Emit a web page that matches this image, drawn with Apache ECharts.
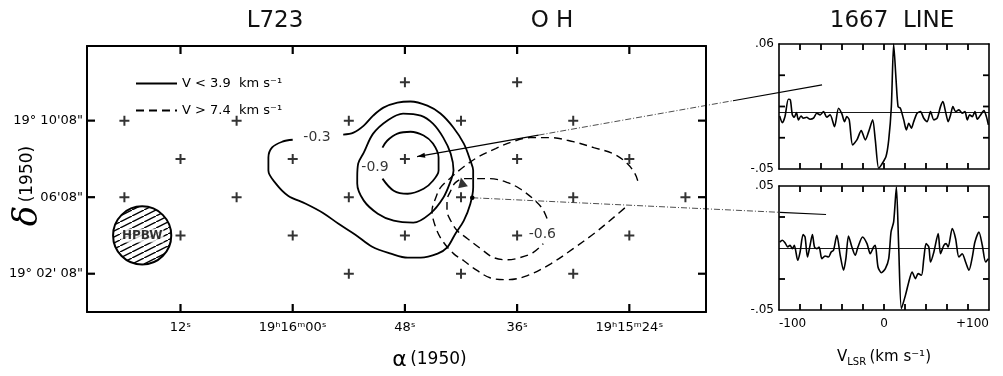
<!DOCTYPE html>
<html>
<head>
<meta charset="utf-8">
<title>L723 OH 1667 line</title>
<script src="https://cdn.jsdelivr.net/npm/echarts@6/dist/echarts.min.js"></script>
<style>
  html, body { margin: 0; padding: 0; background: #fff; }
  #chart { width: 1003px; height: 376px; }
</style>
</head>
<body>
<div id="chart"></div>
<script>
// map: x = seconds of RA after 19h15m00s, y = arcmin of Dec after 19°00'08"
const raTicks = [24, 36, 48, 60, 72]
const raTickLabels = ['19ʰ15ᵐ24ˢ', '36ˢ', '48ˢ', '19ʰ16ᵐ00ˢ', '12ˢ']
const decTicks = [2, 6, 10]
const decTickLabels = ['19° 02\' 08"', '06\'08"', '19° 10\'08"']

// observed positions (+)
const obsPoints = [
  [48, 12], [36, 12],
  [78, 10], [66, 10], [54, 10], [42, 10], [30, 10],
  [72, 8], [60, 8], [48, 8], [36, 8], [24, 8],
  [78, 6], [66, 6], [54, 6], [42, 6], [30, 6], [18, 6],
  [72, 4], [60, 4], [48, 4], [36, 4], [24, 4],
  [54, 2], [42, 2], [30, 2],
]
const sourcePos = [[41.9, 6.77]]
const beamPos = [[76.1, 4.0]]
const beamRadius = 1.52 // arcmin, as drawn

// V < 3.9 km/s contours
const contourSolidOuter = [
  [60.0, 9.0], [61.1, 8.9], [62.2, 8.6], [62.6, 8.07], [62.6, 7.39], [61.8, 6.71], [60.5, 6.08],
  [58.6, 5.66], [56.8, 5.19], [55.1, 4.61], [53.3, 4.04], [51.5, 3.41], [49.5, 3.05], [47.7, 2.84],
  [46.3, 2.84], [44.5, 3.05], [43.5, 3.36], [42.6, 4.09], [41.7, 4.77], [41.0, 5.66], [40.7, 6.5],
  [40.7, 7.39], [41.0, 7.91], [41.7, 8.8], [42.8, 9.63], [44.2, 10.37], [45.6, 10.78], [47.4, 11.0],
  [48.8, 10.94], [50.3, 10.68], [51.4, 10.26], [52.4, 9.74], [53.5, 9.37], [54.6, 9.27],
]
const contourSolidMid = [
  [53.1, 7.02], [53.0, 7.75], [52.4, 8.33], [51.4, 9.32], [49.9, 10.0], [48.2, 10.37], [46.3, 10.26],
  [45.0, 9.84], [43.9, 9.11], [43.1, 8.27], [42.8, 7.39], [43.1, 6.86], [43.9, 5.97], [45.3, 5.14],
  [47.1, 4.67], [49.2, 4.77], [50.9, 5.14], [52.4, 5.82], [53.1, 6.71], [53.1, 7.02],
]
const contourSolidInner = [
  [50.4, 8.59], [49.9, 8.95], [48.8, 9.32], [47.4, 9.42], [46.0, 9.22], [45.0, 8.8], [44.4, 8.07],
  [44.4, 7.39], [45.0, 6.86], [46.0, 6.44], [47.7, 6.18], [49.2, 6.34], [50.4, 6.97],
]
// V > 7.4 km/s contours
const contourDashedOuter = [
  [23.1, 6.86], [23.4, 7.23], [24.2, 7.75], [25.7, 8.27], [27.8, 8.59], [30.0, 8.90], [32.4, 9.11],
  [34.6, 9.11], [36.5, 8.90], [38.3, 8.54], [40.1, 8.12], [41.7, 7.59], [43.1, 7.02], [44.2, 6.5],
  [44.7, 5.97], [45.1, 5.29], [44.7, 4.41], [44.0, 3.73], [42.8, 3.05], [41.7, 2.68], [40.7, 2.31],
  [38.9, 1.79], [37.0, 1.69], [34.9, 1.9], [32.4, 2.52], [30.0, 3.31], [27.8, 4.09], [25.7, 4.93],
  [24.2, 5.56],
]
const contourDashedInner = [
  [32.8, 4.88], [33.3, 5.40], [34.3, 5.92], [35.7, 6.44], [37.0, 6.76], [38.9, 6.97], [40.8, 6.97],
  [41.7, 6.97], [42.6, 6.76], [43.1, 6.34], [43.5, 5.82], [43.5, 5.29], [43.1, 4.77], [42.4, 4.25],
  [41.3, 3.83], [39.9, 3.31], [38.5, 2.84], [37.0, 2.73], [35.7, 2.84], [34.3, 3.10], [33.2, 3.57],
]
const contourLabels = [
  { name: '-0.3', value: [57.4, 9.11] },
  { name: '-0.9', value: [51.2, 7.54] },
  { name: '-0.6', value: [33.3, 4.04] },
]

// 1667 MHz spectra: [V_LSR km/s, antenna temperature]
const spectrumUpper = [
  [-99.4, -0.0033], [-96.8, -0.0092], [-94.3, -0.0039], [-91.1, 0.0114], [-89.2, 0.0108], [-87.3, -0.0024],
  [-85.4, -0.0045], [-83.4, -0.0004], [-81.5, -0.0068], [-79.0, -0.0033], [-76.8, -0.0053], [-73.6, -0.0045],
  [-70.4, -0.0062], [-67.2, -0.0053], [-64.0, -0.0009], [-60.8, -0.0024], [-57.6, 0.0005], [-54.5, -0.0045],
  [-51.3, -0.0024], [-47.1, -0.0127], [-43.3, 0.0035], [-40.1, -0.0015], [-37.6, -0.0083], [-35.4, -0.0039],
  [-33.1, -0.0068], [-29.9, -0.0288], [-25.8, -0.0244], [-21.7, -0.0162], [-17.8, -0.0244], [-14.6, -0.0171],
  [-10.8, -0.0068], [-8.3, -0.0244], [-5.1, -0.0493], [-2.5, -0.0464], [1.9, -0.039], [4.5, -0.0244],
  [7.0, 0.0049], [9.2, 0.06], [11.5, 0.0284], [13.4, 0.0049], [15.6, 0.0035], [18.8, -0.0068],
  [21.3, -0.0156], [23.6, -0.0097], [26.1, -0.0141], [28.3, -0.0083], [31.5, -0.0009], [34.7, 0.0005],
  [37.9, -0.0053], [41.1, -0.0083], [44.3, 0.0005], [47.5, -0.0068], [50.6, -0.0053], [53.8, 0.0049],
  [56.1, 0.0093], [58.6, 0.0005], [61.1, -0.0083], [63.4, -0.0024], [65.6, 0.0049], [68.2, 0.0005],
  [71.3, 0.002], [74.5, -0.0009], [77.1, 0.0005], [79.3, -0.0068], [81.5, -0.0024], [84.1, -0.0039],
  [86.6, 0.0005], [88.9, -0.0062], [92.0, -0.0024], [95.2, 0.0014], [97.5, -0.0039], [99.4, -0.0112],
]
const spectrumLower = [
  [-99.4, 0.0048], [-96.8, 0.0062], [-94.3, 0.0043], [-91.7, 0.0008], [-89.5, 0.0022], [-87.3, -0.0005],
  [-85.4, 0.0022], [-82.2, -0.0099], [-79.9, -0.0032], [-77.1, 0.0108], [-75.2, 0.0089], [-72.9, -0.0073],
  [-70.4, 0.0022], [-68.2, 0.0108], [-66.2, 0.0008], [-64.0, -0.0005], [-61.8, 0.0008], [-59.2, -0.0086],
  [-56.1, -0.0064], [-52.9, -0.0073], [-50.3, -0.0032], [-48.1, -0.0019], [-44.9, 0.0102], [-41.7, -0.0059],
  [-38.5, -0.018], [-36.3, -0.0086], [-33.8, 0.0097], [-30.6, 0.0008], [-27.4, -0.0059], [-24.8, 0.0008],
  [-20.4, 0.0089], [-16.2, 0.0035], [-13.1, -0.0046], [-9.9, 0.0008], [-8.3, 0.0022], [-5.7, -0.0153],
  [-2.5, -0.0199], [1.3, -0.0167], [4.5, -0.0086], [6.7, 0.0129], [9.2, 0.021], [11.8, 0.0492],
  [14.0, 0.0008], [16.6, -0.0489], [20.4, -0.0382], [23.6, -0.0274], [26.8, -0.0194], [29.9, -0.0247],
  [32.5, -0.0207], [35.7, -0.022], [37.9, -0.0086], [40.1, 0.0035], [42.7, 0.0008], [44.3, -0.0113],
  [47.5, -0.0032], [51.6, 0.0116], [53.8, -0.0046], [57.0, 0.0022], [59.2, 0.0035], [61.1, 0.0008],
  [65.0, 0.0156], [68.2, 0.0075], [71.3, -0.0073], [74.5, -0.0046], [77.7, -0.0113], [80.9, -0.018],
  [84.1, -0.0073], [86.6, 0.0048], [90.4, 0.0129], [93.6, 0.0022], [96.8, -0.0113], [99.4, -0.0086],
]
const upperBaseline = -0.003
const lowerBaseline = 0
const velTicks = [-80, -60, -40, -20, 0, 20, 40, 60, 80]
const velLabels = [-100, 0, 100]
const upperTicks = [-0.0225, 0.005, 0.0325]
const lowerTicks = [-0.025, 0.025]
const upperLabels = { '-0.05': '-.05', '0.06': '.06' }
const lowerLabels = { '-0.05': '-.05', '0.05': '.05' }

// pointer lines: spectrum end [V, T] and map end [ra s, dec ']
const pointerUpperSpec = [-59, 0.024]
const pointerUpperMap = [46.7, 8.12]
const pointerLowerSpec = [-55.2, 0.027]
const pointerLowerMap = [40.8, 5.97]

const font = 'DejaVu Sans'
const solidName = 'V < 3.9  km s⁻¹'
const dashedName = 'V > 7.4  km s⁻¹'

let chart = echarts.init(document.getElementById('chart'))

/* hatch pattern for the beam circle */
let hatch = document.createElement('canvas')
hatch.width = 12
hatch.height = 6
let hctx = hatch.getContext('2d')
hctx.fillStyle = '#fff'
hctx.fillRect(0, 0, 12, 6)
hctx.strokeStyle = '#000'
hctx.lineWidth = 1.4
hctx.beginPath()
hctx.moveTo(0, 6)
hctx.lineTo(12, 0)
hctx.stroke()

let plusPath = 'path://M4,0H6V4H10V6H6V10H4V6H0V4H4Z'

let mapX = { type: 'value', min: 15.8, max: 82, inverse: true }
let mapY = { type: 'value', min: 0, max: 13.9 }
let velAxis = { type: 'value', min: -100, max: 100 }
let upperY = { type: 'value', min: -0.05, max: 0.06 }
let lowerY = { type: 'value', min: -0.05, max: 0.05 }

/* frame side: axis line only, ticks are added as graphics below */
function frameAxis(base, extra, width) {
  return Object.assign({
    axisLine: { show: true, onZero: false, lineStyle: { color: '#000', width: width || 1.6 } },
    axisTick: { show: false },
    axisLabel: { show: false },
    splitLine: { show: false },
  }, base, extra)
}

function contour(name, data, dashed) {
  return {
    name: name,
    type: 'line',
    xAxisIndex: 0,
    yAxisIndex: 0,
    data: data,
    symbol: 'none',
    smooth: 0.35,
    lineStyle: { color: '#000', width: dashed ? 1.4 : 1.8, type: dashed ? [8, 5] : 'solid' },
    itemStyle: { color: '#000' },
    z: 3,
  }
}

let option = {
  animation: false,
  title: [
    { text: 'L723', left: 270, top: 5, textAlign: 'center', textStyle: { fontSize: 23, fontWeight: 'normal', fontFamily: font, color: '#111' } },
    { text: 'O H', left: 547, top: 5, textAlign: 'center', textStyle: { fontSize: 23, fontWeight: 'normal', fontFamily: font, color: '#111' } },
    { text: '1667  LINE', left: 887, top: 5, textAlign: 'center', textStyle: { fontSize: 23, fontWeight: 'normal', fontFamily: font, color: '#111' } },
  ],
  legend: {
    data: [solidName, dashedName],
    orient: 'vertical',
    left: 130,
    top: 72,
    itemWidth: 41,
    itemHeight: 14,
    itemGap: 14,
    selectedMode: false,
    itemStyle: { opacity: 0 },
    textStyle: { fontSize: 13, fontFamily: font, color: '#000' },
  },
  grid: [
    { left: 87, top: 46, width: 619, height: 266, outerBoundsMode: 'none' },
    { left: 779, top: 44, width: 210, height: 125, outerBoundsMode: 'none' },
    { left: 779, top: 186, width: 210, height: 124, outerBoundsMode: 'none' },
  ],
  xAxis: [
    frameAxis(mapX, {
      gridIndex: 0, position: 'bottom',
      axisLabel: {
        show: true, customValues: raTicks, margin: 9, fontSize: 13, fontFamily: font, color: '#000',
        formatter: (v) => raTickLabels[raTicks.indexOf(v)],
      },
      name: '{a|α} {n|(1950)}', nameLocation: 'middle', nameGap: 37, nameMoveOverlap: false,
      nameTextStyle: {
        padding: [0, 0, 0, 66],
        rich: { a: { fontSize: 22, fontFamily: font, color: '#000' }, n: { fontSize: 17, fontFamily: font, color: '#000' } },
      },
    }, 2),
    frameAxis(mapX, { gridIndex: 0, position: 'top' }, 2),
    frameAxis(velAxis, { gridIndex: 1, position: 'bottom' }),
    frameAxis(velAxis, { gridIndex: 1, position: 'top' }),
    frameAxis(velAxis, {
      gridIndex: 2, position: 'bottom',
      axisLabel: {
        show: true, customValues: velLabels, margin: 8, fontSize: 12, fontFamily: font, color: '#000',
        alignMinLabel: 'left', alignMaxLabel: 'right',
        formatter: (v) => (v > 0 ? '+' + v : String(v)),
      },
      name: '{v|V}{s|LSR} {n|(km s⁻¹)}', nameLocation: 'middle', nameGap: 38, nameMoveOverlap: false,
      nameTextStyle: {
        rich: {
          v: { fontSize: 15, fontFamily: font, color: '#000' },
          s: { fontSize: 10, fontFamily: font, color: '#000', padding: [9, 0, 0, 0] },
          n: { fontSize: 15, fontFamily: font, color: '#000' },
        },
      },
    }),
    frameAxis(velAxis, { gridIndex: 2, position: 'top' }),
  ],
  yAxis: [
    frameAxis(mapY, {
      gridIndex: 0, position: 'left',
      axisLabel: {
        show: true, customValues: decTicks, margin: 4, fontSize: 13, fontFamily: font, color: '#000',
        formatter: (v) => decTickLabels[decTicks.indexOf(v)],
      },
      name: '{d|δ} {n|(1950)}', nameLocation: 'middle', nameGap: 42, nameMoveOverlap: false,
      nameTextStyle: {
        padding: [0, 14, 0, 0],
        rich: {
          d: { fontSize: 34, fontFamily: 'DejaVu Serif', fontStyle: 'italic', color: '#000' },
          n: { fontSize: 17, fontFamily: font, color: '#000' },
        },
      },
    }, 2),
    frameAxis(mapY, { gridIndex: 0, position: 'right' }, 2),
    frameAxis(upperY, {
      gridIndex: 1, position: 'left',
      axisLabel: {
        show: true, customValues: [-0.05, 0.06], margin: 5, fontSize: 12, fontFamily: font, color: '#000',
        formatter: (v) => upperLabels[String(v)],
      },
    }),
    frameAxis(upperY, { gridIndex: 1, position: 'right' }),
    frameAxis(lowerY, {
      gridIndex: 2, position: 'left',
      axisLabel: {
        show: true, customValues: [-0.05, 0.05], margin: 5, fontSize: 12, fontFamily: font, color: '#000',
        formatter: (v) => lowerLabels[String(v)],
      },
    }),
    frameAxis(lowerY, { gridIndex: 2, position: 'right' }),
  ],
  series: [
    contour(solidName, contourSolidOuter, false),
    contour(solidName, contourSolidMid, false),
    contour(solidName, contourSolidInner, false),
    contour(dashedName, contourDashedOuter, true),
    contour(dashedName, contourDashedInner, true),
    {
      type: 'scatter', xAxisIndex: 0, yAxisIndex: 0,
      data: obsPoints, symbol: plusPath, symbolSize: 10,
      itemStyle: { color: '#000' }, z: 4,
    },
    {
      type: 'scatter', xAxisIndex: 0, yAxisIndex: 0,
      data: sourcePos, symbol: 'triangle', symbolSize: [10, 10], symbolRotate: 12,
      itemStyle: { color: '#000' }, z: 4,
    },
    {
      // beam label; the hatched disc itself is added as a graphic below
      type: 'scatter', xAxisIndex: 0, yAxisIndex: 0,
      data: beamPos, symbolSize: 1,
      itemStyle: { color: 'rgba(0,0,0,0)' },
      label: {
        show: true, position: 'inside', formatter: 'HPBW', fontSize: 12, fontWeight: 'bold',
        fontFamily: font, color: '#000', backgroundColor: '#fff', padding: [1, 1],
      },
      z: 10,
    },
    {
      type: 'scatter', xAxisIndex: 0, yAxisIndex: 0,
      data: contourLabels, symbolSize: 1,
      itemStyle: { color: 'rgba(0,0,0,0)' },
      label: { show: true, position: 'inside', formatter: '{b}', fontSize: 14, fontFamily: font, color: '#000' },
      z: 5,
    },
    {
      type: 'line', xAxisIndex: 2, yAxisIndex: 2,
      data: spectrumUpper, symbol: 'none', smooth: 0.25,
      lineStyle: { color: '#000', width: 1.6 },
      markLine: {
        silent: true, symbol: 'none', label: { show: false },
        lineStyle: { color: '#000', width: 0.9, type: 'solid' },
        data: [{ yAxis: upperBaseline }],
      },
    },
    {
      type: 'line', xAxisIndex: 4, yAxisIndex: 4,
      data: spectrumLower, symbol: 'none', smooth: 0.25,
      lineStyle: { color: '#000', width: 1.6 },
      markLine: {
        silent: true, symbol: 'none', label: { show: false },
        lineStyle: { color: '#000', width: 0.9, type: 'solid' },
        data: [{ yAxis: lowerBaseline }],
      },
    },
  ],
}

chart.setOption(option)

function segment(x1, y1, x2, y2, width, dash) {
  return {
    type: 'line', z: 100, silent: true,
    shape: { x1: x1, y1: y1, x2: x2, y2: y2 },
    style: { stroke: '#000', lineWidth: width, lineDash: dash || null },
  }
}

/* inward tick marks on all four sides of a grid, placed through its axes */
function tickGraphics(gi, xr, yr, xTicks, yTicks, len, width) {
  let els = []
  xTicks.forEach((v) => {
    let p = chart.convertToPixel({ gridIndex: gi }, [v, yr.min])
    let q = chart.convertToPixel({ gridIndex: gi }, [v, yr.max])
    let s = Math.sign(q[1] - p[1])
    els.push(segment(p[0], p[1], p[0], p[1] + s * len, width), segment(q[0], q[1], q[0], q[1] - s * len, width))
  })
  yTicks.forEach((v) => {
    let p = chart.convertToPixel({ gridIndex: gi }, [xr.min, v])
    let q = chart.convertToPixel({ gridIndex: gi }, [xr.max, v])
    let s = Math.sign(q[0] - p[0])
    els.push(segment(p[0], p[1], p[0] + s * len, p[1], width), segment(q[0], q[1], q[0] - s * len, q[1], width))
  })
  return els
}

/* pointer lines from the spectra to their map positions */
function pointer(specGrid, specPt, mapPt, pieces, head) {
  let a = chart.convertToPixel({ gridIndex: 0 }, mapPt)
  let b = chart.convertToPixel({ gridIndex: specGrid }, specPt)
  let at = (t) => [a[0] + (b[0] - a[0]) * t, a[1] + (b[1] - a[1]) * t]
  let els = pieces.map(([t0, t1, dotted]) => {
    let p = at(t0)
    let q = at(t1)
    return segment(p[0], p[1], q[0], q[1], dotted ? 0.7 : 1.1, dotted ? [6, 2, 1, 2] : null)
  })
  let len = Math.hypot(b[0] - a[0], b[1] - a[1])
  let ux = (b[0] - a[0]) / len
  let uy = (b[1] - a[1]) / len
  if (head === 'arrow') {
    let bx = a[0] + ux * 8
    let by = a[1] + uy * 8
    els.push({
      type: 'polygon', z: 101, silent: true,
      shape: { points: [[a[0], a[1]], [bx - uy * 2.6, by + ux * 2.6], [bx + uy * 2.6, by - ux * 2.6]] },
      style: { fill: '#000' },
    })
  } else {
    els.push({ type: 'circle', z: 101, silent: true, shape: { cx: a[0], cy: a[1], r: 2.3 }, style: { fill: '#000' } })
  }
  return els
}

/* hatched beam disc, sized through the map's dec scale */
let beamC = chart.convertToPixel({ gridIndex: 0 }, beamPos[0])
let beamEdge = chart.convertToPixel({ gridIndex: 0 }, [beamPos[0][0], beamPos[0][1] + beamRadius])
let beamDisc = {
  type: 'circle', z: 4, silent: true,
  shape: { cx: beamC[0], cy: beamC[1], r: Math.abs(beamC[1] - beamEdge[1]) },
  style: { fill: { image: hatch, repeat: 'repeat' }, stroke: '#000', lineWidth: 2 },
}

chart.setOption({
  graphic: [beamDisc].concat(
    tickGraphics(0, mapX, mapY, raTicks, decTicks, 8, 2.2),
    tickGraphics(1, velAxis, upperY, velTicks, upperTicks, 6, 1.8),
    tickGraphics(2, velAxis, lowerY, velTicks, lowerTicks, 6, 1.8),
    pointer(1, pointerUpperSpec, pointerUpperMap, [[0, 0.3, false], [0.3, 0.78, true], [0.78, 1, false]], 'arrow'),
    pointer(2, pointerLowerSpec, pointerLowerMap, [[0, 0.87, true], [0.87, 1, false]], 'dot')
  ),
})
</script>
</body>
</html>
